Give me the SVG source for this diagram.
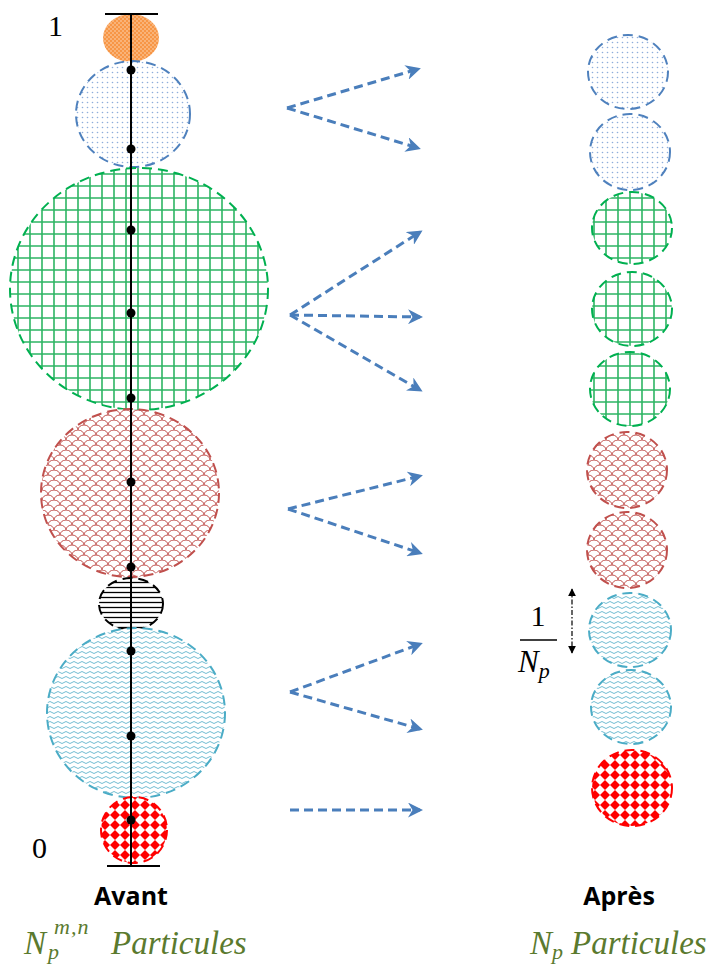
<svg xmlns="http://www.w3.org/2000/svg" width="715" height="967" viewBox="0 0 715 967">
<style>
.ol{stroke-width:2;stroke-dasharray:10,6}
.arr{fill:none;stroke:#4A7EBB;stroke-width:3;stroke-dasharray:9,5;marker-end:url(#ah)}
.dot{fill:#000}
.lbl{font-family:'Liberation Serif',serif;font-size:30px;fill:#000}
.hd{font-family:'Open Sans','Liberation Sans',sans-serif;font-weight:bold;font-size:25px;fill:#000}
.gr{font-family:'Liberation Serif',serif;font-style:italic;font-size:33px;fill:#5B7A2E}
.gs{font-family:'Liberation Serif',serif;font-style:italic;font-size:22px;fill:#5B7A2E}
.mt{font-family:'Liberation Serif',serif;font-style:italic;font-size:31px;fill:#000}
</style>
<defs>
<marker id="ah" viewBox="0 0 10 10" refX="8" refY="5" markerWidth="5" markerHeight="5" orient="auto" markerUnits="strokeWidth">
<path d="M0,0 L10,5 L0,10 L3,5 Z" fill="#4A7EBB" stroke="none"/>
</marker>
<marker id="bk" viewBox="0 0 10 10" refX="9" refY="5" markerWidth="8" markerHeight="8" orient="auto-start-reverse" markerUnits="userSpaceOnUse">
<path d="M0,0 L10,5 L0,10 Z" fill="#000"/>
</marker>
<pattern id="pOr" width="4" height="4" patternUnits="userSpaceOnUse">
<rect width="4" height="4" fill="#F79646"/>
<circle cx="1" cy="1" r="0.8" fill="#FCD9B8"/>
<circle cx="3" cy="3" r="0.8" fill="#FCD9B8"/>
</pattern>
<pattern id="pBl" width="5" height="5" patternUnits="userSpaceOnUse">
<rect width="5" height="5" fill="#fff"/>
<circle cx="2.5" cy="2.5" r="0.8" fill="#8EAEDB"/>
</pattern>
<pattern id="pGr" width="12" height="12" patternUnits="userSpaceOnUse">
<rect width="12" height="12" fill="#fff"/>
<path d="M6,0 V12 M0,6 H12" stroke="#2DB563" stroke-width="1.6" fill="none"/>
</pattern>
<pattern id="pRd" width="12" height="10" patternUnits="userSpaceOnUse">
<rect width="12" height="10" fill="#fff"/>
<path d="M0,5 A6,5 0 0 1 12,5 M-6,10 A6,5 0 0 1 6,10 M6,10 A6,5 0 0 1 18,10 M-6,0 A6,5 0 0 1 6,0 M6,0 A6,5 0 0 1 18,0" stroke="#C0504D" stroke-width="1" fill="none"/>
</pattern>
<pattern id="pBk" width="6" height="5" patternUnits="userSpaceOnUse">
<rect width="6" height="5" fill="#fff"/>
<path d="M0,2.5 H6" stroke="#000" stroke-width="1.3"/>
</pattern>
<pattern id="pCy" width="8" height="5" patternUnits="userSpaceOnUse">
<rect width="8" height="5" fill="#fff"/>
<path d="M0,2.5 Q2,0.5 4,2.5 T8,2.5" stroke="#72BDD2" stroke-width="1" fill="none"/>
</pattern>
<pattern id="pCk" width="10" height="10" patternUnits="userSpaceOnUse">
<rect width="10" height="10" fill="#fff"/>
<polygon points="5,0 10,5 5,10 0,5" fill="#FF0000"/>
</pattern>
</defs>

<g id="before">
<g id="b-orange"><ellipse cx="131" cy="38" rx="28" ry="24" fill="url(#pOr)"/></g>
<g id="b-blue"><ellipse cx="133" cy="114" rx="57" ry="53" fill="url(#pBl)" stroke="#4F81BD" class="ol"/></g>
<g id="b-green"><ellipse cx="139" cy="289" rx="129" ry="121" fill="url(#pGr)" stroke="#00B050" class="ol"/></g>
<g id="b-red"><ellipse cx="130" cy="493" rx="89" ry="84" fill="url(#pRd)" stroke="#C0504D" class="ol"/></g>
<g id="b-black"><ellipse cx="131" cy="604" rx="32" ry="26" fill="url(#pBk)" stroke="#000" class="ol"/></g>
<g id="b-cyan"><ellipse cx="136" cy="713" rx="89" ry="85" fill="url(#pCy)" stroke="#4BACC6" class="ol"/></g>
<g id="b-check"><ellipse cx="134" cy="830" rx="33" ry="33" fill="url(#pCk)" stroke="#FF0000" class="ol"/></g>
</g>

<g id="axis">
<line x1="131" y1="14" x2="131" y2="866" stroke="#000" stroke-width="2"/>
<line x1="105" y1="14" x2="158" y2="14" stroke="#000" stroke-width="2"/>
<line x1="107" y1="866" x2="160" y2="866" stroke="#000" stroke-width="2"/>
<circle class="dot" cx="131" cy="70" r="4.5"/>
<circle class="dot" cx="131" cy="149" r="4.5"/>
<circle class="dot" cx="131" cy="230" r="4.5"/>
<circle class="dot" cx="131" cy="313" r="4.5"/>
<circle class="dot" cx="131" cy="398" r="4.5"/>
<circle class="dot" cx="131" cy="482" r="4.5"/>
<circle class="dot" cx="131" cy="567" r="4.5"/>
<circle class="dot" cx="131" cy="651" r="4.5"/>
<circle class="dot" cx="131" cy="736" r="4.5"/>
<circle class="dot" cx="131" cy="820" r="4.5"/>
<text class="lbl" x="48" y="36">1</text>
<text class="lbl" x="32" y="858">0</text>
</g>

<g id="after">
<g id="a1"><ellipse cx="628" cy="72" rx="40" ry="37" fill="url(#pBl)" stroke="#4F81BD" class="ol"/></g>
<g id="a2"><ellipse cx="630" cy="152" rx="40" ry="38" fill="url(#pBl)" stroke="#4F81BD" class="ol"/></g>
<g id="a3"><ellipse cx="632" cy="228" rx="40" ry="36" fill="url(#pGr)" stroke="#00B050" class="ol"/></g>
<g id="a4"><ellipse cx="632" cy="309" rx="40" ry="37" fill="url(#pGr)" stroke="#00B050" class="ol"/></g>
<g id="a5"><ellipse cx="630" cy="389" rx="40" ry="37" fill="url(#pGr)" stroke="#00B050" class="ol"/></g>
<g id="a6"><ellipse cx="627" cy="470" rx="40" ry="38" fill="url(#pRd)" stroke="#C0504D" class="ol"/></g>
<g id="a7"><ellipse cx="627" cy="550" rx="40" ry="38" fill="url(#pRd)" stroke="#C0504D" class="ol"/></g>
<g id="a8"><ellipse cx="630" cy="630" rx="41" ry="37" fill="url(#pCy)" stroke="#4BACC6" class="ol"/></g>
<g id="a9"><ellipse cx="631" cy="707" rx="40" ry="37" fill="url(#pCy)" stroke="#4BACC6" class="ol"/></g>
<g id="a10"><ellipse cx="632" cy="788" rx="40" ry="38" fill="url(#pCk)" stroke="#FF0000" class="ol"/></g>
</g>

<g id="connectors">
<path class="arr" d="M287,108 L418,69"/>
<path class="arr" d="M287,108 L418,148"/>
<path class="arr" d="M290,315 L420,232"/>
<path class="arr" d="M290,315 L420,317"/>
<path class="arr" d="M290,315 L420,390"/>
<path class="arr" d="M288,509 L420,476"/>
<path class="arr" d="M288,509 L420,553"/>
<path class="arr" d="M290,692 L420,644"/>
<path class="arr" d="M290,692 L420,729"/>
<path class="arr" d="M290,810 L420,810"/>
<line x1="572" y1="589" x2="572" y2="653" stroke="#000" stroke-width="1.2" stroke-dasharray="5,2,1.5,2" marker-start="url(#bk)" marker-end="url(#bk)"/>
</g>

<g id="labels">
<text class="lbl" x="538" y="626" text-anchor="middle" font-size="32">1</text>
<line x1="520" y1="640" x2="557" y2="640" stroke="#000" stroke-width="1.5"/>
<text class="mt" x="518" y="672">N<tspan font-size="22" dy="6">p</tspan></text>
<text class="hd" x="131" y="905" text-anchor="middle">Avant</text>
<text class="hd" x="619" y="905" text-anchor="middle">Après</text>
<text class="gr" x="24" y="954">N</text>
<text class="gs" x="54" y="934" letter-spacing="1">m,n</text>
<text class="gs" x="48" y="959">p</text>
<text class="gr" x="111" y="954">Particules</text>
<text class="gr" x="530" y="954">N<tspan font-size="22" dy="5">p</tspan><tspan dx="8" dy="-5">Particules</tspan></text>
</g>
</svg>
